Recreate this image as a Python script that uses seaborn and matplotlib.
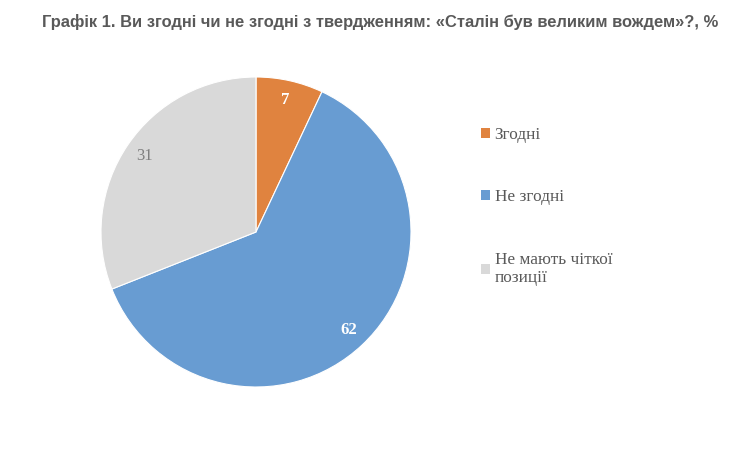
import matplotlib
matplotlib.use("Agg")
import matplotlib.pyplot as plt
import seaborn as sns
import numpy as np
from matplotlib.patches import Patch

# data
categories = ["Згодні", "Не згодні", "Не мають чіткої\nпозиції"]
values = [7, 62, 31]
colors = ["#E0833F", "#689CD2", "#D9D9D9"]
label_colors = ["white", "white", "#7F7F7F"]
label_weights = ["bold", "bold", "normal"]

sns.set_theme(style="white")
plt.rcParams["font.family"] = ["Liberation Serif", "DejaVu Serif"]

fig = plt.figure(figsize=(7.48, 4.5), dpi=100)
fig.patch.set_facecolor("white")

# pie centred at (256, 232) px, radius 155 px
cx, cy, r = 256, 232, 155
ax = fig.add_axes([(cx - r) / 748, (450 - cy - r) / 450, 2 * r / 748, 2 * r / 450])

wedges, _ = ax.pie(values, colors=sns.color_palette(colors), startangle=90,
                   counterclock=False, radius=1.0,
                   wedgeprops=dict(linewidth=0.8, edgecolor="white"))
ax.set_xlim(-1, 1)
ax.set_ylim(-1, 1)
ax.set_aspect("equal")
ax.axis("off")

for w, v, c, fw in zip(wedges, values, label_colors, label_weights):
    ang = np.deg2rad((w.theta1 + w.theta2) / 2)
    d = 0.87
    ax.text(d * np.cos(ang), d * np.sin(ang), str(v), ha="center", va="center",
            fontsize=12, color=c, fontweight=fw, family=["Liberation Serif"])

handles = [Patch(facecolor=c, edgecolor="none") for c in colors]
leg = fig.legend(handles, categories, loc="upper left",
                 bbox_to_anchor=(474 / 748, 1 - 120 / 450), frameon=False,
                 fontsize=12.4, labelspacing=2.7, handlelength=0.5,
                 handleheight=0.5, handletextpad=0.3, borderaxespad=0)
for t in leg.get_texts():
    t.set_color("#595959")

fig.text(380 / 748, 1 - 22 / 450,
         "Графік 1. Ви згодні чи не згодні з твердженням: «Сталін був великим вождем»?, %",
         ha="center", va="center", fontsize=11.9, fontweight="bold",
         color="#595959", family=["Liberation Sans", "DejaVu Sans"])

fig.savefig("out.png", dpi=100, facecolor="white")
